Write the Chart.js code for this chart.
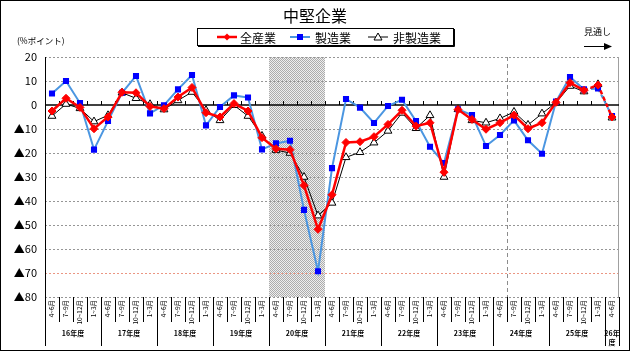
<!DOCTYPE html>
<html>
<head>
<meta charset="utf-8">
<script src="https://cdn.jsdelivr.net/npm/chart.js@4/dist/chart.umd.min.js"></script>
<style>
html, body { margin: 0; padding: 0; background: #fff; }
</style>
</head>
<body>
<canvas id="chart1" width="630" height="351"></canvas>
<script>
const quarters = ['4~6月', '7~9月', '10~12月', '1~3月'];
const fiscalYears = ['16年度', '17年度', '18年度', '19年度', '20年度', '21年度', '22年度', '23年度', '24年度', '25年度', '26年度'];
const yTicks = [20, 10, 0, -10, -20, -30, -40, -50, -60, -70, -80];

// 全産業
const allIndustries = [-2.5, 2.8, -1.0, -9.9, -5.0, 5.3, 5.1, -0.6, -1.5, 3.3, 7.3, -3.2, -5.0, 0.6, -2.5, -13.6,
    -18.2, -18.6, -33.5, -51.8, -37.4, -15.6, -15.3, -13.2, -8.1, -2.2, -8.8, -7.4, -28.0, -1.9,
    -6.0, -10.1, -7.4, -4.2, -9.9, -7.4, 1.1, 9.3, 6.1, 8.3, -5.0];
// 製造業
const manufacturing = [4.8, 10.0, 0.8, -18.6, -6.7, 5.1, 12.1, -3.5, -0.1, 6.5, 12.5, -8.5, -0.8, 4.0, 3.1, -18.5,
    -16.0, -14.9, -43.7, -69.3, -26.3, 2.5, -1.1, -7.5, -0.4, 2.2, -6.7, -17.4, -24.2, -1.8,
    -4.2, -17.1, -12.5, -6.4, -14.7, -20.3, 1.4, 11.7, 6.5, 6.9, -4.6];
// 非製造業
const nonManufacturing = [-4.6, 0.4, -1.4, -6.9, -4.3, 5.1, 2.8, 0.3, -1.9, 1.9, 5.4, -2.2, -6.4, -0.1, -4.6, -12.9,
    -18.8, -20.0, -30.0, -46.1, -40.8, -21.8, -19.7, -15.7, -10.8, -3.3, -9.7, -4.3, -30.0, -1.8,
    -6.4, -7.4, -5.6, -2.9, -8.3, -3.6, 1.0, 7.9, 5.6, 8.6, -5.3];

const labels = [];
fiscalYears.forEach((fy, i) => {
    const n = i === fiscalYears.length - 1 ? 1 : 4;
    for (let q = 0; q < n; q++) labels.push(quarters[q]);
});

const jp = '"Noto Sans CJK JP", sans-serif';
const forecastFrom = 39;
const dashed = ctx => ctx.p1DataIndex >= forecastFrom ? [4, 3] : undefined;

// stipple for the shaded 20年度 block
const pat = document.createElement('canvas');
pat.width = 2; pat.height = 2;
const pc = pat.getContext('2d');
pc.fillStyle = 'rgb(238,238,238)'; pc.fillRect(0, 0, 2, 2);
pc.fillStyle = 'rgb(172,172,172)'; pc.fillRect(0, 0, 1, 1); pc.fillRect(1, 1, 1, 1);

const data = {
    labels: labels,
    datasets: [{
        label: '全産業',
        data: allIndustries,
        borderColor: 'rgb(255,0,0)',
        backgroundColor: 'rgb(255,0,0)',
        borderWidth: 2.5,
        pointStyle: 'rectRot',
        pointRadius: 4,
        pointBorderWidth: 1,
        segment: { borderDash: dashed },
    }, {
        label: '製造業',
        data: manufacturing,
        borderColor: 'rgb(75,150,225)',
        backgroundColor: 'rgb(0,0,255)',
        pointBorderColor: 'rgb(0,0,255)',
        borderWidth: 2,
        pointStyle: 'rect',
        pointRadius: 4.3,
        pointBorderWidth: 0,
        segment: { borderDash: dashed },
    }, {
        label: '非製造業',
        data: nonManufacturing,
        borderColor: 'rgb(0,0,0)',
        backgroundColor: 'rgb(255,255,255)',
        borderWidth: 1,
        pointStyle: 'triangle',
        pointRadius: 4.5,
        pointBorderWidth: 1,
        segment: { borderDash: dashed },
    }]
};

const frame = {
    id: 'frame',
    beforeDatasetsDraw(chart) {
        const { ctx, chartArea: a, scales: { x, y } } = chart;
        const step = x.getPixelForValue(1) - x.getPixelForValue(0);
        const edge = i => x.getPixelForValue(i) - step / 2;
        ctx.save();
        // shaded block
        ctx.fillStyle = ctx.createPattern(pat, 'repeat');
        ctx.fillRect(edge(16), a.top, edge(20) - edge(16), a.bottom - a.top);
        // grid
        yTicks.forEach(v => {
            if (v === 0) return;
            const py = Math.round(y.getPixelForValue(v)) + 0.5;
            ctx.beginPath();
            ctx.setLineDash([2, 2]);
            ctx.strokeStyle = v === -70 ? 'rgb(235,150,130)' : 'rgb(150,150,150)';
            ctx.lineWidth = 1;
            ctx.moveTo(a.left, py); ctx.lineTo(a.right, py);
            ctx.stroke();
        });
        // forecast divider
        const dx = Math.round(edge(33)) + 0.5;
        ctx.beginPath();
        ctx.setLineDash([4, 3]);
        ctx.strokeStyle = 'rgb(140,140,140)';
        ctx.moveTo(dx, a.top); ctx.lineTo(dx, a.bottom);
        ctx.stroke();
        ctx.setLineDash([]);
        // right border
        ctx.beginPath();
        ctx.strokeStyle = 'rgb(160,160,160)';
        ctx.moveTo(Math.round(a.right) - 0.5, a.top); ctx.lineTo(Math.round(a.right) - 0.5, a.bottom);
        ctx.stroke();
        // left axis
        ctx.beginPath();
        ctx.strokeStyle = '#000';
        ctx.moveTo(Math.round(a.left) + 0.5, a.top); ctx.lineTo(Math.round(a.left) + 0.5, a.bottom);
        ctx.stroke();
        // zero line with ticks
        const zy = Math.round(y.getPixelForValue(0));
        ctx.beginPath();
        ctx.lineWidth = 1.6;
        ctx.moveTo(a.left, zy); ctx.lineTo(a.right, zy);
        ctx.stroke();
        ctx.lineWidth = 1;
        ctx.beginPath();
        for (let i = 1; i < labels.length; i++) {
            const ex = Math.round(edge(i)) + 0.5;
            ctx.moveTo(ex, zy - 4); ctx.lineTo(ex, zy);
        }
        ctx.stroke();
        ctx.restore();
    },
    afterDraw(chart) {
        const { ctx, chartArea: a, scales: { x } } = chart;
        const step = x.getPixelForValue(1) - x.getPixelForValue(0);
        const edge = i => x.getPixelForValue(i) - step / 2;
        ctx.save();
        // category separators below the plot
        ctx.strokeStyle = '#000';
        ctx.lineWidth = 1;
        ctx.beginPath();
        for (let i = 0; i <= labels.length; i++) {
            const ex = Math.round(edge(i)) + 0.5;
            const long = i % 4 === 0 || i === labels.length;
            ctx.moveTo(ex, a.bottom); ctx.lineTo(ex, long ? 346 : 322);
        }
        ctx.stroke();
        // fiscal year labels
        ctx.fillStyle = '#000';
        ctx.textAlign = 'center';
        ctx.textBaseline = 'middle';
        ctx.font = 'bold 7px ' + jp;
        fiscalYears.forEach((fy, i) => {
            const s = i * 4;
            const e = Math.min(s + 4, labels.length);
            const cx = (edge(s) + edge(e)) / 2;
            if (e - s < 4) {
                ctx.fillText(fy.slice(0, 3), cx, 333);
                ctx.fillText(fy.slice(3), cx, 342);
            } else {
                ctx.fillText(fy, cx, 333);
            }
        });
        // title
        ctx.font = '16px ' + jp;
        ctx.fillText('中堅企業', 315, 16);
        // unit
        ctx.font = '8.5px ' + jp;
        ctx.textAlign = 'left';
        ctx.fillText('(%ポイント)', 17, 41);
        // outlook arrow
        ctx.font = '9px ' + jp;
        ctx.fillText('見通し', 584, 32);
        ctx.beginPath();
        ctx.moveTo(584, 46.5); ctx.lineTo(606, 46.5);
        ctx.stroke();
        ctx.beginPath();
        ctx.moveTo(612, 46.5); ctx.lineTo(604, 43); ctx.lineTo(604, 50); ctx.closePath();
        ctx.fill();
        // legend
        ctx.strokeStyle = '#000';
        ctx.strokeRect(197.5, 28.5, 256, 17);
        ctx.beginPath();
        ctx.moveTo(198, 46.5); ctx.lineTo(454.5, 46.5); ctx.lineTo(454.5, 29);
        ctx.stroke();
        const items = [[217, 240], [290, 315], [368, 393]];
        ctx.font = '12px ' + jp;
        chart.data.datasets.forEach((ds, i) => {
            const [lx, tx] = items[i];
            const ly = 37;
            ctx.beginPath();
            ctx.strokeStyle = ds.borderColor;
            ctx.lineWidth = ds.borderWidth;
            ctx.moveTo(lx, ly); ctx.lineTo(lx + 20, ly);
            ctx.stroke();
            const mx = lx + 10;
            ctx.lineWidth = 1;
            ctx.beginPath();
            if (ds.pointStyle === 'rectRot') {
                ctx.moveTo(mx, ly - 3.5); ctx.lineTo(mx + 3.5, ly); ctx.lineTo(mx, ly + 3.5); ctx.lineTo(mx - 3.5, ly);
                ctx.closePath(); ctx.fillStyle = ds.backgroundColor; ctx.fill();
            } else if (ds.pointStyle === 'rect') {
                ctx.fillStyle = ds.backgroundColor; ctx.fillRect(mx - 3, ly - 3, 6, 6);
            } else {
                ctx.moveTo(mx, ly - 4); ctx.lineTo(mx + 4, ly + 3); ctx.lineTo(mx - 4, ly + 3); ctx.closePath();
                ctx.fillStyle = '#fff'; ctx.fill(); ctx.strokeStyle = '#000'; ctx.stroke();
            }
            ctx.fillStyle = '#000';
            ctx.fillText(ds.label, tx, ly + 1);
        });
        // outer frame
        ctx.strokeStyle = '#000';
        ctx.lineWidth = 1;
        ctx.strokeRect(0.5, 0.5, 629, 350);
        ctx.restore();
    }
};

const config = {
    type: 'line',
    data,
    options: {
        responsive: false,
        animation: false,
        devicePixelRatio: 1,
        layout: { padding: { top: 57, right: 11, left: 0, bottom: 0 } },
        plugins: {
            legend: { display: false },
            title: { display: false },
            tooltip: { enabled: false },
        },
        scales: {
            x: {
                type: 'category',
                offset: true,
                grid: { display: false, drawTicks: false },
                border: { display: false },
                ticks: {
                    autoSkip: false,
                    minRotation: 90,
                    maxRotation: 90,
                    padding: 3,
                    color: '#000',
                    font: { size: 6.5, family: jp },
                },
                afterFit: s => { s.height = 54; },
            },
            y: {
                min: -80,
                max: 20,
                grid: { display: false, drawTicks: false },
                border: { display: false },
                ticks: {
                    stepSize: 10,
                    padding: 8,
                    color: '#000',
                    font: { size: 11, family: jp },
                    callback: v => v < 0 ? '▲' + (-v) : String(v),
                },
                afterFit: s => { s.width = 45; },
            },
        },
    },
    plugins: [frame],
};

let chart1 = new Chart(document.getElementById('chart1'), config);
</script>
</body>
</html>
